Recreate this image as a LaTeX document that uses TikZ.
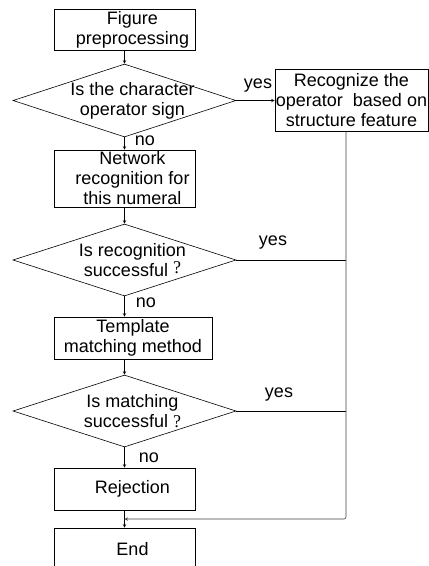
\documentclass[tikz,border=0pt]{standalone}
\usepackage{fontspec}
\setmainfont{Liberation Sans}
\newfontfamily\qmark{Liberation Serif}
\usetikzlibrary{shapes.geometric, arrows}
\tikzstyle{block} = [draw, rectangle, minimum width=141pt, minimum height=42pt, inner sep=0pt]
\tikzstyle{decision} = [draw, diamond, aspect=3, minimum width=223pt, minimum height=72pt, inner sep=0pt]
\tikzset{txt/.style={label={[xshift=8pt, align=center]center:#1}}}

\begin{document}
\begin{tikzpicture}[x=1pt, y=-1pt, font=\fontsize{18}{20}\selectfont, line width=0.6pt, >=stealth]
    \useasboundingbox (0,0) rectangle (429,566);
    \node[block, minimum height=41pt, txt={Figure\\preprocessing}] (pre) at (124.5,29.5) {};
    \node[decision, minimum height=73pt, txt={Is the character\\operator sign}] (isop) at (124.5,100.5) {};
    \node[block, minimum width=153pt, minimum height=62pt, align=center] (oper) at (351.5,100) {Recognize the\\operator\ \ based on\\structure feature};
    \node[block, minimum height=57pt, txt={Network\\recognition for\\this numeral}] (net) at (124.5,178.5) {};
    \node[decision, txt={Is recognition\\successful \raisebox{3pt}{\qmark ?}}] (isrec) at (124.5,260) {};
    \node[block, minimum width=158pt, align=center] (tmpl) at (133,338) {Template\\matching method};
    \node[decision, txt={Is matching\\successful {\qmark ?}}] (ismat) at (124.5,411) {};
    \node[block, txt=Rejection] (rej) at (124.5,489) {};
    \node[block, txt=End] (end) at (124.5,549) {};
    \coordinate (turn) at (346,519);
    \coordinate (merge) at (124.5,519);

    \node (yes1) at (258,86) {yes};
    \node (yes2) at (273,243) {yes};
    \node (yes3) at (279,395) {yes};
    \node (no1) at (145,141) {no};
    \node (no2) at (146,303) {no};
    \node (no3) at (149,458) {no};

    \draw[->] (pre) -- (isop);
    \draw[->] (isop.east) -- (isop.east -| oper.west);
    \draw[->] (isop) -- (net);
    \draw[->] (net) -- (isrec);
    \draw[->] (isrec.south) -- (isrec.south |- tmpl.north);
    \draw[->] (tmpl.south -| ismat.north) -- (ismat.north);
    \draw[->] (ismat) -- (rej);
    \draw[->] (rej) -- (end);
    \draw (isrec.east) -- (isrec.east -| turn);
    \draw (ismat.east) -- (ismat.east -| turn);
    \draw[->, black!75, rounded corners=2pt] (oper.south -| turn) -- (turn) -- (merge);
\end{tikzpicture}
\end{document}
